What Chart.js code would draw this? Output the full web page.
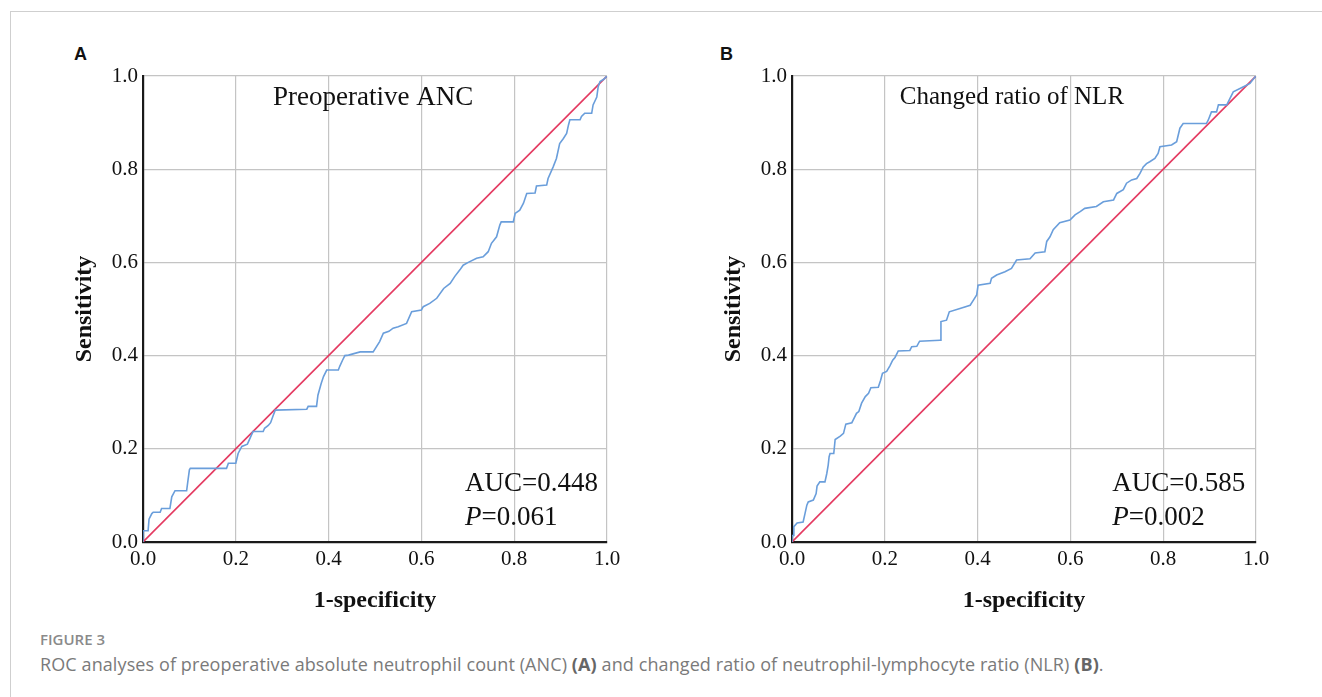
<!DOCTYPE html>
<html>
<head>
<meta charset="utf-8">
<title>Figure 3 - ROC analyses</title>
<script src="https://cdn.jsdelivr.net/npm/chart.js@4.4.1/dist/chart.umd.min.js"></script>
<style>
  html, body { margin: 0; padding: 0; background: #ffffff; }
  body { width: 1322px; height: 697px; position: relative; overflow: hidden; }
  .frame {
    position: absolute; left: 10px; top: 11px; right: 0; bottom: 0;
    border-left: 1.5px solid #cfcfcf; border-top: 1.5px solid #cfcfcf;
  }
  .panel-label {
    position: absolute; font-family: 'Liberation Sans', Arial, sans-serif;
    font-weight: bold; font-size: 18px; line-height: 18px; color: #111;
  }
  .chart-box { position: absolute; width: 580px; height: 570px; }
  .fig-no {
    position: absolute; left: 40px; top: 632px; font-family: 'Open Sans', sans-serif;
    font-size: 15px; line-height: 15px; font-weight: 600; color: #8a8a8a;
  }
  .caption {
    position: absolute; left: 40px; top: 655px; font-family: 'Open Sans', sans-serif;
    font-size: 18px; line-height: 18px; color: #7a7a7a; white-space: nowrap; letter-spacing: 0.1px;
  }
  .caption b { color: #666; }
</style>
</head>
<body>
<div class="frame"></div>

<div class="panel-label" style="left:74px; top:45px;">A</div>
<div class="panel-label" style="left:720px; top:45px;">B</div>

<div class="chart-box" style="left:50px; top:50px;"><canvas id="roc-anc" width="580" height="570"></canvas></div>
<div class="chart-box" style="left:699px; top:50px;"><canvas id="roc-nlr" width="580" height="570"></canvas></div>

<div class="fig-no">FIGURE 3</div>
<div class="caption">ROC analyses of preoperative absolute neutrophil count (ANC) <b>(A)</b> and changed ratio of neutrophil-lymphocyte ratio (NLR) <b>(B)</b>.</div>

<script>
/* ========================================================
   DATA
   ======================================================== */
const axisTicks = [0, 0.2, 0.4, 0.6, 0.8, 1.0];
const diagonalX = [0, 1];
const diagonalY = [0, 1];

// Panel A - preoperative ANC
const ancFpr = [0, 0, 0.011, 0.013, 0.019, 0.022, 0.037, 0.04, 0.058, 0.062, 0.069, 0.094, 0.097, 0.1, 0.102,
  0.18, 0.184, 0.2, 0.205, 0.213, 0.225, 0.237, 0.259, 0.262, 0.27, 0.275, 0.28, 0.285, 0.353, 0.356, 0.374,
  0.377, 0.384, 0.389, 0.396, 0.421, 0.424, 0.43, 0.435, 0.443, 0.468, 0.496, 0.51, 0.518, 0.53, 0.539, 0.55,
  0.568, 0.579, 0.6, 0.604, 0.618, 0.633, 0.648, 0.662, 0.672, 0.683, 0.69, 0.701, 0.719, 0.733, 0.744, 0.751,
  0.762, 0.769, 0.772, 0.798, 0.802, 0.812, 0.82, 0.827, 0.845, 0.848, 0.87, 0.873, 0.884, 0.891, 0.898, 0.906,
  0.913, 0.917, 0.92, 0.942, 0.945, 0.952, 0.967, 0.97, 0.978, 0.981, 0.985, 0.993, 1];
const ancTpr = [0, 0.024, 0.024, 0.049, 0.061, 0.064, 0.064, 0.072, 0.072, 0.097, 0.11, 0.11, 0.133, 0.155, 0.158,
  0.158, 0.169, 0.169, 0.19, 0.205, 0.21, 0.237, 0.237, 0.244, 0.25, 0.256, 0.27, 0.283, 0.285, 0.291, 0.291,
  0.315, 0.34, 0.355, 0.369, 0.369, 0.377, 0.39, 0.4, 0.401, 0.408, 0.408, 0.43, 0.448, 0.452, 0.459, 0.462,
  0.469, 0.494, 0.498, 0.505, 0.512, 0.523, 0.544, 0.555, 0.57, 0.584, 0.594, 0.6, 0.609, 0.612, 0.623, 0.641,
  0.655, 0.68, 0.687, 0.687, 0.705, 0.712, 0.727, 0.748, 0.749, 0.764, 0.766, 0.78, 0.805, 0.823, 0.855, 0.866,
  0.877, 0.895, 0.906, 0.906, 0.913, 0.92, 0.92, 0.938, 0.955, 0.977, 0.988, 0.993, 1];

// Panel B - changed ratio of NLR
const nlrFpr = [0, 0, 0.003, 0.004, 0.011, 0.024, 0.028, 0.032, 0.035, 0.046, 0.052, 0.054, 0.06, 0.071, 0.075,
  0.078, 0.08, 0.082, 0.09, 0.093, 0.104, 0.111, 0.116, 0.129, 0.132, 0.139, 0.144, 0.15, 0.158, 0.165, 0.17,
  0.186, 0.191, 0.195, 0.204, 0.211, 0.217, 0.222, 0.229, 0.254, 0.258, 0.269, 0.275, 0.319, 0.321, 0.333,
  0.339, 0.362, 0.384, 0.391, 0.398, 0.401, 0.427, 0.43, 0.441, 0.459, 0.473, 0.484, 0.513, 0.524, 0.545,
  0.549, 0.556, 0.563, 0.577, 0.599, 0.61, 0.621, 0.631, 0.656, 0.671, 0.693, 0.7, 0.714, 0.721, 0.732, 0.743,
  0.75, 0.757, 0.764, 0.771, 0.782, 0.789, 0.793, 0.818, 0.829, 0.836, 0.843, 0.893, 0.897, 0.904, 0.915,
  0.919, 0.937, 0.944, 0.951, 0.973, 0.987, 0.993, 1];
const nlrTpr = [0, 0.014, 0.014, 0.033, 0.041, 0.043, 0.061, 0.079, 0.086, 0.09, 0.104, 0.12, 0.129, 0.129, 0.147,
  0.165, 0.183, 0.19, 0.19, 0.22, 0.227, 0.233, 0.253, 0.256, 0.262, 0.276, 0.28, 0.298, 0.312, 0.319, 0.331,
  0.332, 0.347, 0.362, 0.366, 0.378, 0.39, 0.396, 0.41, 0.411, 0.419, 0.42, 0.431, 0.433, 0.473, 0.476,
  0.494, 0.501, 0.508, 0.519, 0.53, 0.551, 0.555, 0.566, 0.573, 0.58, 0.587, 0.605, 0.608, 0.62, 0.623,
  0.645, 0.655, 0.67, 0.685, 0.691, 0.702, 0.709, 0.716, 0.72, 0.73, 0.734, 0.748, 0.756, 0.77, 0.777, 0.78,
  0.791, 0.805, 0.812, 0.816, 0.823, 0.834, 0.848, 0.852, 0.859, 0.888, 0.898, 0.898, 0.905, 0.923, 0.923,
  0.938, 0.938, 0.952, 0.966, 0.977, 0.984, 0.992, 1];

/* ========================================================
   IN-PLOT TEXT (title, AUC and P value)
   ======================================================== */
const serif = "'Liberation Serif', 'Times New Roman', serif";

const panelTextPlugin = {
  id: 'panelText',
  afterDatasetsDraw(chart, args, opts) {
    const { ctx, scales: { x, y } } = chart;
    ctx.save();
    ctx.fillStyle = '#111111';
    ctx.textBaseline = 'middle';

    ctx.font = `${opts.titleSize}px ${serif}`;
    ctx.textAlign = 'center';
    ctx.fillText(opts.title, x.getPixelForValue(opts.titleX), y.getPixelForValue(0.953));

    ctx.font = `27px ${serif}`;
    ctx.textAlign = 'left';
    const left = x.getPixelForValue(opts.statsX);
    ctx.fillText('AUC=' + opts.auc, left, y.getPixelForValue(0.124));

    ctx.font = `italic 27px ${serif}`;
    ctx.fillText('P', left, y.getPixelForValue(0.052));
    const pw = ctx.measureText('P').width;
    ctx.font = `27px ${serif}`;
    ctx.fillText('=' + opts.p, left + pw, y.getPixelForValue(0.052));
    ctx.restore();
  }
};

function toPoints(xs, ys) {
  return xs.map((v, i) => ({ x: v, y: ys[i] }));
}

function axisOptions(titleText, isX) {
  return {
    type: 'linear',
    min: 0,
    max: 1,
    afterBuildTicks: scale => { scale.ticks = axisTicks.map(v => ({ value: v })); },
    afterFit: scale => {
      if (isX) scale.height = 78; else scale.width = 93;
    },
    grid: { color: '#c4c4c4', lineWidth: 1.2, drawTicks: false },
    border: { display: true, color: '#1a1a1a', width: 2.2 },
    ticks: {
      padding: 5,
      color: '#111111',
      font: { family: serif, size: 21 },
      callback: v => Number(v).toFixed(1)
    },
    title: {
      display: true,
      text: titleText,
      color: '#111111',
      font: { family: serif, size: 24, weight: 'bold' },
      padding: isX ? { top: 0, bottom: 5 } : { top: 20, bottom: 0 }
    }
  };
}

function renderRocChart(canvasId, fpr, tpr, textOpts) {
  const ctx = document.getElementById(canvasId).getContext('2d');
  return new Chart(ctx, {
    type: 'scatter',
    data: {
      datasets: [
        {
          label: 'ROC',
          data: toPoints(fpr, tpr),
          showLine: true,
          borderColor: '#6a9edb',
          borderWidth: 1.6,
          pointRadius: 0,
          tension: 0
        },
        {
          label: 'Reference',
          data: toPoints(diagonalX, diagonalY),
          showLine: true,
          borderColor: '#e43a61',
          borderWidth: 1.6,
          pointRadius: 0
        }
      ]
    },
    options: {
      responsive: false,
      animation: false,
      layout: { padding: { top: 26, right: 23, left: 0, bottom: 0 } },
      plugins: {
        legend: { display: false },
        tooltip: { enabled: false },
        panelText: textOpts
      },
      scales: {
        x: axisOptions('1-specificity', true),
        y: axisOptions('Sensitivity', false)
      }
    },
    plugins: [panelTextPlugin]
  });
}

renderRocChart('roc-anc', ancFpr, ancTpr, {
  title: 'Preoperative ANC', titleSize: 27, titleX: 0.496, statsX: 0.694, auc: '0.448', p: '0.061'
});
renderRocChart('roc-nlr', nlrFpr, nlrTpr, {
  title: 'Changed ratio of NLR', titleSize: 25, titleX: 0.474, statsX: 0.69, auc: '0.585', p: '0.002'
});
</script>
</body>
</html>
